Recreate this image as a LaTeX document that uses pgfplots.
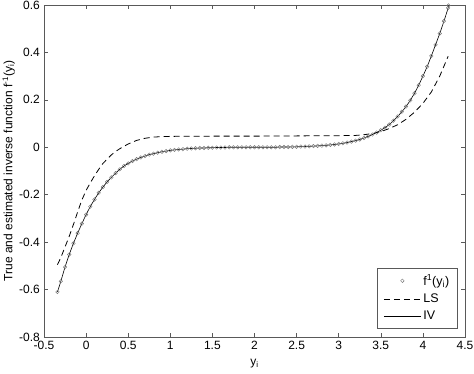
\documentclass[border=0pt]{standalone}
\usepackage{pgfplots}
\pgfplotsset{compat=1.18}
\usepackage{pgfplotstable}
\usepackage{fontspec}
\setmainfont{Liberation Sans}

\pgfplotstableread{
x y
-0.34 -0.610
-0.30 -0.565
-0.25 -0.505
-0.20 -0.452
-0.15 -0.405
-0.10 -0.362
-0.05 -0.322
0.00 -0.284
0.05 -0.250
0.10 -0.220
0.15 -0.192
0.20 -0.168
0.25 -0.146
0.30 -0.127
0.35 -0.109
0.40 -0.093
0.45 -0.079
0.50 -0.068
0.55 -0.058
0.60 -0.050
0.65 -0.043
0.70 -0.037
0.75 -0.031
0.80 -0.027
0.85 -0.023
0.90 -0.019
0.95 -0.016
1.00 -0.013
1.05 -0.011
1.10 -0.009
1.15 -0.008
1.20 -0.006
1.25 -0.005
1.30 -0.004
1.35 -0.003
1.40 -0.003
1.45 -0.002
1.50 -0.002
1.55 -0.001
1.60 -0.001
1.65 -0.001
1.70 0
1.75 0
1.80 0
1.85 0
1.90 0
1.95 0
2.00 0
2.05 0
2.10 0
2.15 0
2.20 0
2.25 0
2.30 0.001
2.35 0.001
2.40 0.001
2.45 0.002
2.50 0.002
2.55 0.003
2.60 0.003
2.65 0.004
2.70 0.005
2.75 0.006
2.80 0.007
2.85 0.008
2.90 0.010
2.95 0.012
3.00 0.014
3.05 0.017
3.10 0.020
3.15 0.024
3.20 0.028
3.25 0.033
3.30 0.039
3.35 0.046
3.40 0.054
3.45 0.062
3.50 0.072
3.55 0.083
3.60 0.096
3.65 0.112
3.70 0.130
3.75 0.150
3.80 0.172
3.85 0.198
3.90 0.228
3.95 0.262
4.00 0.300
4.05 0.340
4.10 0.385
4.15 0.432
4.20 0.480
4.25 0.532
4.30 0.588
4.305 0.598
}\truedata

\pgfplotstableread{
x y
-0.34 -0.495
-0.30 -0.465
-0.25 -0.420
-0.20 -0.375
-0.15 -0.325
-0.10 -0.272
-0.05 -0.222
0.00 -0.182
0.05 -0.150
0.10 -0.120
0.15 -0.093
0.20 -0.068
0.25 -0.050
0.30 -0.032
0.35 -0.018
0.40 -0.006
0.50 0.014
0.60 0.029
0.70 0.038
0.80 0.043
0.90 0.045
1.00 0.046
1.50 0.047
2.00 0.047
2.50 0.048
3.00 0.049
3.20 0.050
3.30 0.053
3.40 0.058
3.50 0.066
3.60 0.079
3.70 0.095
3.80 0.118
3.90 0.148
4.00 0.185
4.10 0.233
4.20 0.300
4.30 0.384
}\lsdata

\begin{document}
\fontsize{12}{14}\selectfont
\begin{tikzpicture}
\path[use as bounding box] (-44pt,-37pt) rectangle (430pt,337pt);
\begin{axis}[
  at={(0pt,0pt)}, anchor=south west,
  scale only axis, width=421pt, height=332pt,
  xmin=-0.5, xmax=4.5, ymin=-0.8, ymax=0.6,
  xtick={-0.5,0,...,4.5},
  ytick={-0.8,-0.6,...,0.6},
  /pgf/number format/assume math mode=true,
  /pgf/number format/fixed,
  tick label style={font=\fontsize{12}{14}\selectfont, black},
  label style={font=\fontsize{12}{14}\selectfont, black},
  axis line style={black!65, line width=0.7pt},
  major tick style={black!65, line width=0.5pt},
  major tick length=4pt,
  tick align=inside,
  xlabel={y\textsubscript{i}},
  ylabel={True and estimated inverse function f\textsuperscript{-1}(y\textsubscript{i})},
  xlabel style={yshift=-1pt},
  ylabel style={yshift=-4pt},
  legend style={at={(0.982,0.027)}, anchor=south east,
    draw=black!65, line width=0.5pt,
    font=\fontsize{12.5}{15}\selectfont,
    row sep=3pt, inner xsep=6pt, inner ysep=4pt},
  legend cell align=left,
  legend image code/.code={\draw[mark repeat=2,mark phase=2,#1] plot coordinates {(0pt,0pt) (18.5pt,0pt) (37pt,0pt)};},
]
\addplot[only marks, mark=o, mark size=1.8pt, draw=black!55, line width=0.4pt] table[x=x,y=y] {\truedata};
\addlegendentry{f\textsuperscript{1}(y\textsubscript{i})}
\addplot[black, line width=0.8pt, dash pattern=on 6pt off 4pt] table[x=x,y=y] {\lsdata};
\addlegendentry{LS}
\addplot[black, line width=0.6pt, smooth] table[x=x,y=y] {\truedata};
\addlegendentry{IV}
\end{axis}
\end{tikzpicture}
\end{document}
